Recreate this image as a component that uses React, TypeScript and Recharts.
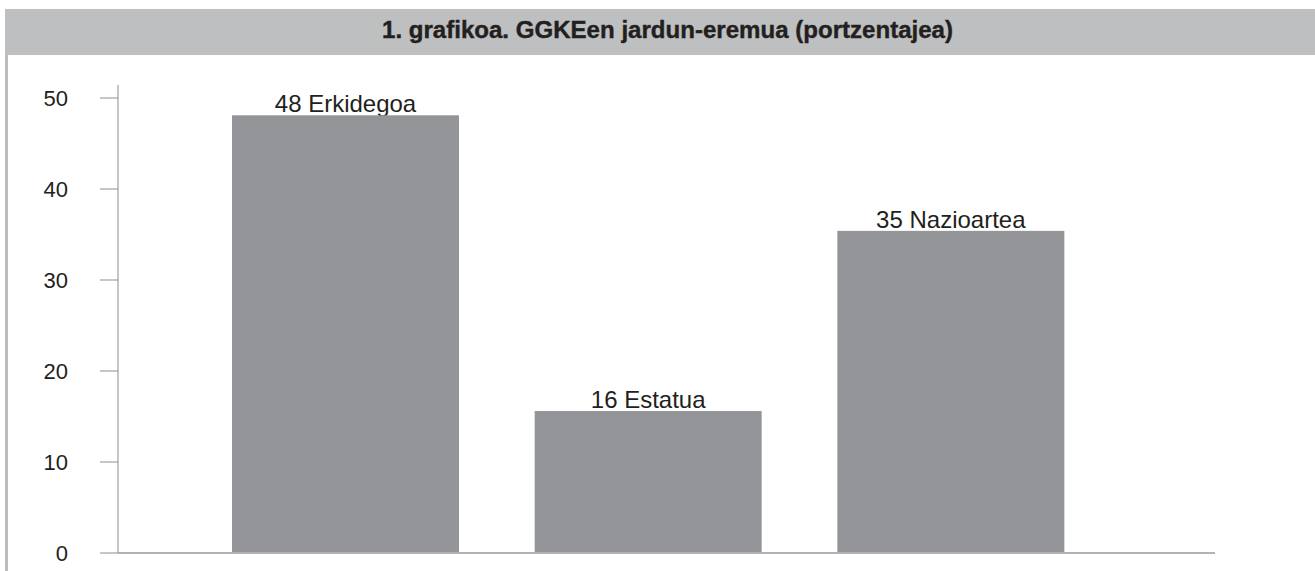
import { BarChart, Bar, XAxis, YAxis } from "recharts";

// values (labels show them rounded)
const categories = ["Erkidegoa", "Estatua", "Nazioartea"];
const percentages = [48.1, 15.6, 35.4];
const yTicks = [0, 10, 20, 30, 40, 50];

const TITLE = "1. grafikoa. GGKEen jardun-eremua (portzentajea)";

const data = categories.map((name, i) => ({
  name,
  value: percentages[i],
}));

const FONT = "'Liberation Sans', Arial, Helvetica, sans-serif";
const TEXT_COLOR = "#231f20";
const BAR_COLOR = "#939598";

// bar drawn over its own label, so the descenders get covered like in the print
const LabelledBar = (props: any) => {
  const { x, y, width, height, payload } = props;
  const label = `${Math.round(payload.value)} ${payload.name}`;
  return (
    <g>
      <text
        x={x + width / 2}
        y={y - 3}
        textAnchor="middle"
        fontFamily={FONT}
        fontSize={24}
        fill={TEXT_COLOR}
      >
        {label}
      </text>
      <rect x={x} y={y} width={width} height={height} fill={BAR_COLOR} />
    </g>
  );
};

export default function App() {
  return (
    <div
      style={{
        position: "absolute",
        left: 0,
        top: 0,
        width: 1315,
        height: 571,
        background: "#ffffff",
        overflow: "hidden",
      }}
    >
      {/* title band */}
      <div
        style={{
          position: "absolute",
          left: 5,
          top: 9,
          width: 1310,
          height: 46,
          background: "#bebfc1",
        }}
      >
        <svg width={1310} height={46} style={{ display: "block" }}>
          <text
            x={377}
            y={29}
            fontFamily="'Liberation Sans Narrow', 'Liberation Sans', Arial, sans-serif"
            fontWeight="bold"
            fontSize={23}
            fill={TEXT_COLOR}
            stroke={TEXT_COLOR}
            strokeWidth={0.4}
            textLength={571}
            lengthAdjust="spacingAndGlyphs"
          >
            {TITLE}
          </text>
        </svg>
      </div>
      {/* left frame line */}
      <div
        style={{
          position: "absolute",
          left: 5,
          top: 55,
          width: 3,
          height: 516,
          background: "#bcbcbe",
        }}
      />
      <div style={{ position: "absolute", left: 0, top: 0 }}>
        <BarChart
          width={1315}
          height={571}
          data={data}
          margin={{ top: 85, right: 100, bottom: 8, left: 0 }}
          barSize={227}
        >
          <XAxis
            dataKey="name"
            height={10}
            tick={false}
            tickLine={false}
            axisLine={{ stroke: "#b3b3b5", strokeWidth: 2 }}
            padding={{ left: 76, right: 113 }}
          />
          <YAxis
            width={118}
            domain={[0, 51.43]}
            ticks={yTicks}
            tickSize={18}
            tickMargin={32}
            axisLine={{ stroke: "#8e8e90" }}
            tickLine={{ stroke: "#8e8e90" }}
            tick={{ fontFamily: FONT, fontSize: 22, fill: TEXT_COLOR }}
          />
          <Bar
            dataKey="value"
            fill={BAR_COLOR}
            shape={LabelledBar}
            isAnimationActive={false}
          />
        </BarChart>
      </div>
    </div>
  );
}
